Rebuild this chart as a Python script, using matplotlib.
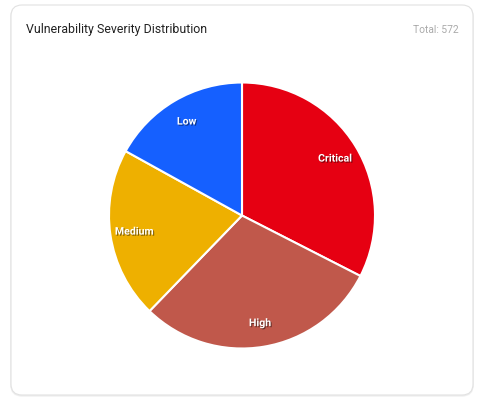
import matplotlib
matplotlib.use("Agg")
import matplotlib.pyplot as plt
from matplotlib.patches import FancyBboxPatch
import matplotlib.patheffects as pe

# dane
kategorie = ["Critical", "High", "Medium", "Low"]
wartosci = [186, 170, 119, 97]
kolory = ["#E60012", "#C0584B", "#EEB000", "#1560FF"]
tytul = "Vulnerability Severity Distribution"
suma = sum(wartosci)

plt.rcParams['font.family'] = ['Roboto', 'DejaVu Sans']

W, H = 480, 402
fig = plt.figure(figsize=(W / 100, H / 100), dpi=100)
fig.patch.set_facecolor("white")

# tlo karty (wspolrzedne w pikselach)
tlo = fig.add_axes([0, 0, 1, 1])
tlo.set_xlim(0, W)
tlo.set_ylim(H, 0)
tlo.axis("off")

cien = FancyBboxPatch((11, 6.8), 462, 390, boxstyle="round,pad=0,rounding_size=11",
                      facecolor="none", edgecolor="#eeeeee", linewidth=1.2)
tlo.add_patch(cien)
karta = FancyBboxPatch((11, 6), 462, 390, boxstyle="round,pad=0,rounding_size=11",
                       facecolor="white", edgecolor="#e2e2e2", linewidth=0.8)
tlo.add_patch(karta)

tlo.text(26, 30, tytul, fontsize=8.9, color="#222222", va="center", ha="left")
tlo.text(459, 30, f"Total: {suma}", fontsize=7.4, color="#aaaaaa", va="center", ha="right")

# wykres kolowy
cx, cy, r = 242, 216.5, 133
ax = fig.add_axes([(cx - r) / W, (H - cy - r) / H, 2 * r / W, 2 * r / H])
klin, teksty = ax.pie(wartosci, labels=kategorie, colors=kolory, startangle=90,
                      counterclock=False, labeldistance=0.82, radius=1.0,
                      wedgeprops=dict(edgecolor="white", linewidth=1.5),
                      textprops=dict(color="white", fontsize=7.6, fontweight="bold"))
for t in teksty:
    t.set_ha("center")
    t.set_va("center")
    t.set_path_effects([pe.withSimplePatchShadow(offset=(0.8, -0.8), shadow_rgbFace="black", alpha=0.45)])
ax.set_xlim(-1.0, 1.0)
ax.set_ylim(-1.0, 1.0)
ax.set_aspect("equal")
ax.axis("off")

fig.savefig("out.png", dpi=100)
